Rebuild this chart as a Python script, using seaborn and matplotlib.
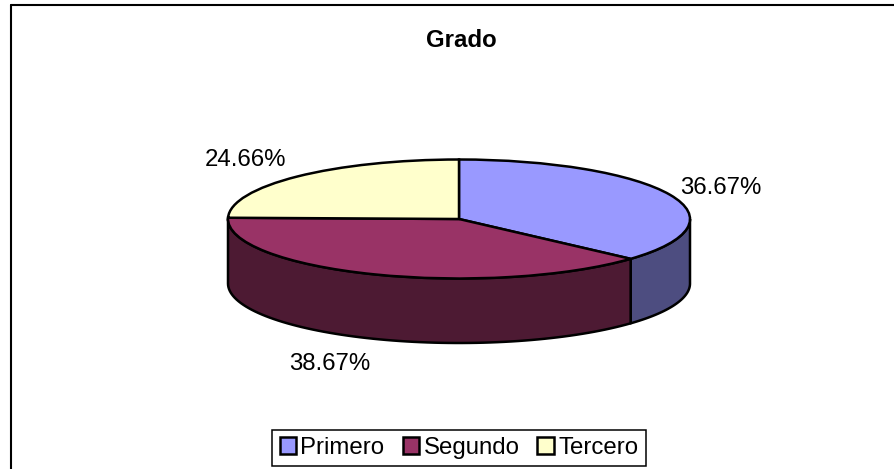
import matplotlib
matplotlib.use("Agg")
import matplotlib.pyplot as plt
from matplotlib.lines import Line2D
import numpy as np
import seaborn as sns

# datos
categorias = ["Primero", "Segundo", "Tercero"]
valores = [36.67, 38.67, 24.66]
titulo = "Grado"

# estilo
colores = ["#9999FF", "#993366", "#FFFFCC"]
colores_lado = ["#4D4D80", "#4D1A33", "#808066"]
W, H = 894, 469
FS = 24 * 72 / 100
LW = 1.8
PROFUNDIDAD = 64.5 / 59.5  # grosor en unidades del radio

sns.set_theme(style="white")
plt.rcParams["font.family"] = ["Liberation Sans", "DejaVu Sans"]
plt.rcParams["text.color"] = "black"

fig = plt.figure(figsize=(W / 100, H / 100), dpi=100)
ax = fig.add_axes([228 / W, 1 - 343.5 / H, 462 / W, 184 / H])


def fx(px):
    return px / W


def fy(py):
    return 1 - py / H


# pared lateral: solo la parte frontal del cilindro (de 0 a -180 grados)
fin = 90 - np.cumsum(valores) * 3.6
inicio = np.r_[90, fin[:-1]]
for a, b, c in zip(inicio, fin, colores_lado):
    a2, b2 = min(a, 0), max(b, -180)
    if a2 <= b2:
        continue
    t = np.radians(np.linspace(a2, b2, 80))
    xs = np.r_[np.cos(t), np.cos(t[::-1])]
    ys = np.r_[np.sin(t), np.sin(t[::-1]) - PROFUNDIDAD]
    ax.fill(xs, ys, facecolor=c, edgecolor="black", linewidth=LW,
            joinstyle="round", clip_on=False)

# cara superior
wedges, _ = ax.pie(valores, colors=colores, startangle=90, counterclock=False,
                   wedgeprops={"edgecolor": "black", "linewidth": LW})
ax.set_aspect("auto")
ax.set_xlim(-1, 1)
ax.set_ylim(1 - 184 / 59.5, 1)

# etiquetas de porcentaje
pos_etiquetas = [(680, 186), (289, 361), (205, 157)]
for v, (px, py) in zip(valores, pos_etiquetas):
    fig.text(fx(px), fy(py), f"{v:.2f}%", fontsize=FS, color="black",
             ha="left", va="center_baseline")

fig.text(fx(461), fy(38), titulo, fontsize=FS, fontweight="bold", color="black",
         ha="center", va="center_baseline")

# leyenda
leg = fig.legend(wedges, categorias, ncol=3, loc="center",
                 bbox_to_anchor=(fx(459), fy(448)), fontsize=FS, labelcolor="black",
                 frameon=True, fancybox=False, framealpha=1, edgecolor="black",
                 handlelength=0.67, handleheight=0.67, handletextpad=0.2,
                 columnspacing=0.75, borderpad=0.3, borderaxespad=0)
leg.get_frame().set_linewidth(1.1)

# marco del gráfico (cortado por la derecha y por abajo)
fig.add_artist(Line2D([fx(10.5), fx(10.5)], [0, fy(5.5)], color="black", lw=1.5))
fig.add_artist(Line2D([fx(10.5), 1], [fy(5.5), fy(5.5)], color="black", lw=1.5))

fig.savefig("out.png", dpi=100)
